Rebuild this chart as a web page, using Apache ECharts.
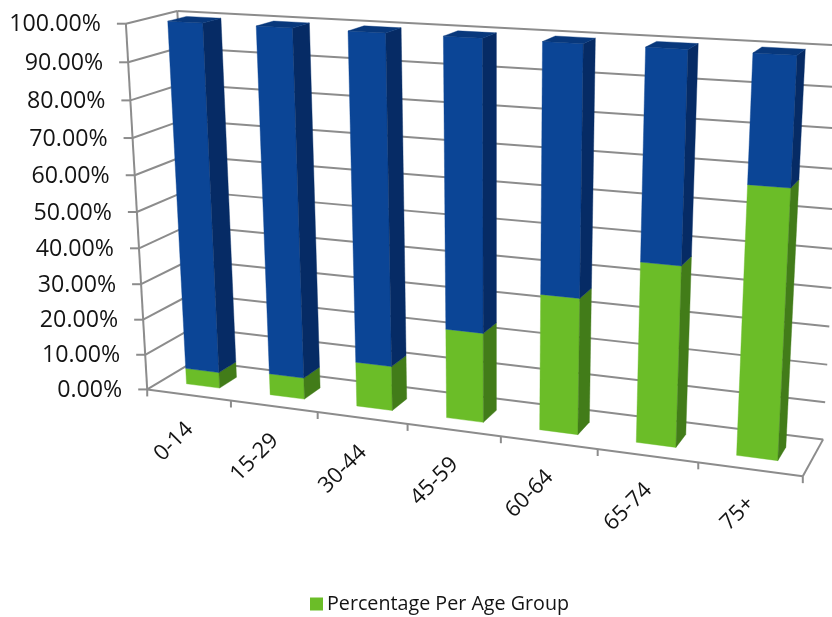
<!DOCTYPE html>
<html>
<head>
<meta charset="utf-8">
<style>html,body{margin:0;padding:0;background:#fff}#chart{width:832px;height:617px}</style>
<script src="https://cdn.jsdelivr.net/npm/echarts@6/dist/echarts.min.js"></script>
</head>
<body>
<div id="chart"></div>
<script>
// Age groups along the floor and share of each group in the stacked columns.
const categories = ['0-14', '15-29', '30-44', '45-59', '60-64', '65-74', '75+'];
const groupShare = [4.5, 6, 12.3, 24.3, 36.3, 47.2, 68.7];
const otherShare = [95.5, 94, 87.7, 75.7, 63.7, 52.8, 31.3];
const valueTicks = [0, 10, 20, 30, 40, 50, 60, 70, 80, 90, 100];
const tickLabels = ['0.00%', '10.00%', '20.00%', '30.00%', '40.00%', '50.00%', '60.00%', '70.00%', '80.00%', '90.00%', '100.00%'];
const seriesName = 'Percentage Per Age Group';

// Scene reference points: [category units, value, depth, screen x, screen y].
const cameraAnchors = [
  [0, 0, 0, 147, 388], [1, 0, 0, 230, 402], [2, 0, 0, 318, 413], [3, 0, 0, 407, 424],
  [5, 0, 0, 598, 449], [6, 0, 0, 698, 462], [7, 0, 0, 803, 476],
  [7, 0, 1, 823, 439], [0, 0, 1, 196, 361],
  [0, 100, 0, 127, 24], [0, 50, 0, 137, 211], [0, 100, 1, 176, 11], [7, 100, 1, 845, 46]
];

// Fit a 3x4 perspective camera to the reference points by least squares.
function fitCamera(anchors) {
  const n = 11, A = [], b = [];
  for (let i = 0; i < n; i++) { A.push(new Array(n).fill(0)); b.push(0); }
  const addRow = (row, rhs) => {
    for (let i = 0; i < n; i++) {
      b[i] += row[i] * rhs;
      for (let j = 0; j < n; j++) A[i][j] += row[i] * row[j];
    }
  };
  anchors.forEach(([x, v, z, sx, sy]) => {
    const y = v / 100, u = sx / 1000, w = sy / 1000;
    addRow([x, y, z, 1, 0, 0, 0, 0, -u * x, -u * y, -u * z], u);
    addRow([0, 0, 0, 0, x, y, z, 1, -w * x, -w * y, -w * z], w);
  });
  for (let c = 0; c < n; c++) {
    let p = c;
    for (let r = c + 1; r < n; r++) if (Math.abs(A[r][c]) > Math.abs(A[p][c])) p = r;
    [A[c], A[p]] = [A[p], A[c]];
    [b[c], b[p]] = [b[p], b[c]];
    for (let r = c + 1; r < n; r++) {
      const f = A[r][c] / A[c][c];
      for (let k = c; k < n; k++) A[r][k] -= f * A[c][k];
      b[r] -= f * b[c];
    }
  }
  const m = new Array(n).fill(0);
  for (let r = n - 1; r >= 0; r--) {
    let s = b[r];
    for (let k = r + 1; k < n; k++) s -= A[r][k] * m[k];
    m[r] = s / A[r][r];
  }
  return m;
}
const cam = fitCamera(cameraAnchors);
function project(x, v, z) {
  const y = v / 100;
  const d = cam[8] * x + cam[9] * y + cam[10] * z + 1;
  return [
    1000 * (cam[0] * x + cam[1] * y + cam[2] * z + cam[3]) / d,
    1000 * (cam[4] * x + cam[5] * y + cam[6] * z + cam[7]) / d
  ];
}

const LINE = '#8c8c8c';
const TEXT = '#141414';
const FAMILY = '"Open Sans", sans-serif';
const VALUE_FONT = '23.2px ' + FAMILY;
const CATEGORY_FONT = '22px ' + FAMILY;
const HALF_WIDTH = 0.2, NEAR = 0.3, FAR = 0.67;
const lineStyle = { stroke: LINE, lineWidth: 2, fill: null };

// Convert a datum through the hidden axes into scene units.
function toScene(params, api, catIndex, value) {
  const cs = params.coordSys;
  const c = api.coord([catIndex, value]);
  return [(c[0] - cs.x) / cs.width * categories.length, (cs.y + cs.height - c[1]) / cs.height * 100];
}
const seg = (a, b) => ({ type: 'line', shape: { x1: a[0], y1: a[1], x2: b[0], y2: b[1] }, style: lineStyle });
const poly = (pts, fill) => ({ type: 'polygon', shape: { points: pts }, style: { fill, stroke: fill, lineWidth: 0.4 } });

function renderWallLevel(params, api) {
  const level = toScene(params, api, 0, api.value(0))[1];
  const nCat = categories.length;
  const front = project(0, level, 0), back = project(0, level, 1), backRight = project(nCat, level, 1);
  const children = [seg(front, back), seg(back, backRight)];
  children.push(seg([front[0] - 9, front[1]], front));
  children.push({
    type: 'text', x: front[0] - 25, y: front[1] + 1,
    style: { text: tickLabels[params.dataIndex], font: VALUE_FONT, fill: TEXT, align: 'right', verticalAlign: 'middle' }
  });
  return { type: 'group', children };
}

function renderFrame() {
  const n = categories.length;
  return {
    type: 'group',
    children: [
      seg(project(0, 0, 0), project(0, 100, 0)),
      seg(project(0, 0, 1), project(0, 100, 1)),
      seg(project(0, 0, 0), project(n, 0, 0)),
      seg(project(n, 0, 0), project(n, 0, 1))
    ]
  };
}

function renderCategoryMark(params, api) {
  const x = toScene(params, api, api.value(0), 0)[0];
  const i = params.dataIndex;
  const tip = project(i + 1, 0, 0);
  const mid = project(x, 0, 0);
  const children = [seg(tip, [tip[0], tip[1] + 7])];
  if (i === 0) {
    const o = project(0, 0, 0);
    children.push(seg(o, [o[0], o[1] + 7]));
  }
  children.push({
    type: 'text', x: mid[0] + 1, y: mid[1] + 31, rotation: Math.PI / 4,
    style: { text: categories[i], x: 0, y: 0, font: CATEGORY_FONT, fill: TEXT, align: 'right', verticalAlign: 'middle' }
  });
  return { type: 'group', children };
}

// One stacked block: front face, right side and, if it ends the stack, the top.
function blockRenderer(front, side, top) {
  return function (params, api) {
    const from = toScene(params, api, api.value(0), api.value(1));
    const to = toScene(params, api, api.value(0), api.value(2));
    const l = from[0] - HALF_WIDTH, r = from[0] + HALF_WIDTH, v0 = from[1], v1 = to[1];
    const children = [
      poly([project(l, v0, NEAR), project(r, v0, NEAR), project(r, v1, NEAR), project(l, v1, NEAR)], front),
      poly([project(r, v0, NEAR), project(r, v0, FAR), project(r, v1, FAR), project(r, v1, NEAR)], side)
    ];
    if (top) children.push(poly([project(l, v1, NEAR), project(r, v1, NEAR), project(r, v1, FAR), project(l, v1, FAR)], top));
    return { type: 'group', children };
  };
}

const chart = echarts.init(document.getElementById('chart'), null, { renderer: 'canvas' });
chart.setOption({
  animation: false,
  backgroundColor: '#fff',
  grid: { left: 0, right: 0, top: 0, bottom: 0 },
  xAxis: { type: 'category', data: categories, show: false },
  yAxis: { type: 'value', min: 0, max: 100, show: false },
  legend: {
    data: [{ name: seriesName, icon: 'rect' }],
    left: 305, top: 589, itemWidth: 13, itemHeight: 13, itemGap: 4,
    selectedMode: false,
    textStyle: { color: TEXT, fontFamily: FAMILY, fontSize: 19.7, padding: [0, 0, 0, -1] }
  },
  series: [
    {
      name: 'Levels', type: 'custom', silent: true, clip: false, z: 1,
      renderItem: renderWallLevel,
      data: valueTicks.map(v => [v]), encode: { y: 0 }
    },
    {
      name: 'Frame', type: 'custom', silent: true, clip: false, z: 2,
      renderItem: renderFrame, data: [[0]]
    },
    {
      name: 'Categories', type: 'custom', silent: true, clip: false, z: 2,
      renderItem: renderCategoryMark,
      data: categories.map((c, i) => [i]), encode: { x: 0 }
    },
    {
      name: seriesName, type: 'custom', silent: true, clip: false, z: 3,
      itemStyle: { color: '#6bbd28' },
      renderItem: blockRenderer('#6bbd28', '#427c19', null),
      data: categories.map((c, i) => [i, 0, groupShare[i]]), encode: { x: 0, y: 2 }
    },
    {
      name: 'Remainder', type: 'custom', silent: true, clip: false, z: 3,
      itemStyle: { color: '#0b4596' },
      renderItem: blockRenderer('#0b4596', '#062b65', '#08387c'),
      data: categories.map((c, i) => [i, groupShare[i], groupShare[i] + otherShare[i]]), encode: { x: 0, y: 2 }
    }
  ]
});
</script>
</body>
</html>
